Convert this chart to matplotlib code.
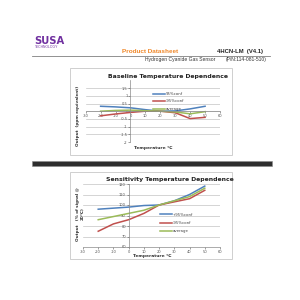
import matplotlib
matplotlib.use("Agg")
import matplotlib.pyplot as plt
from matplotlib.patches import Rectangle
from matplotlib.lines import Line2D

# data
temps = [-20, -10, 0, 10, 20, 30, 40, 50]

base_upper = [0.32, 0.28, 0.22, 0.1, 0.0, 0.02, 0.15, 0.32]
base_lower = [-0.3, -0.18, -0.08, 0.0, 0.0, -0.1, -0.48, -0.4]
base_avg = [0.0, 0.05, 0.07, 0.03, 0.0, -0.05, -0.17, -0.03]
base_labels = ["95%conf", "-95%conf", "average"]

sens_upper = [96, 97, 98, 99.5, 100, 104, 110, 118]
sens_lower = [75, 82, 86, 92, 100, 103, 106, 114]
sens_avg = [86, 89, 92, 95, 100, 104, 108, 116]
sens_labels = ["+95%conf", "-95%conf", "average"]

x_ticks = [-30, -20, -10, 0, 10, 20, 30, 40, 50, 60]
base_yticks = [-2, -1.5, -1, -0.5, 0, 0.5, 1, 1.5]
sens_yticks = [60, 70, 80, 90, 100, 110, 120]

colors = ["#4F81BD", "#C0504D", "#9BBB59"]

W = H = 300.0


def rect(l, t, r, b):
    return [l / W, 1 - b / H, (r - l) / W, (b - t) / H]


def fx(x):
    return x / W


def fy(y):
    return 1 - y / H


fig = plt.figure(figsize=(3, 3), dpi=100)
fig.patch.set_facecolor("white")

# header
fig.text(fx(34), fy(41), "SUSA", color="#7030A0", fontsize=7.2,
         fontweight="bold", family="DejaVu Sans", va="center")
fig.text(fx(35), fy(46.5), "TECHNOLOGY", color="#7030A0", fontsize=2.4,
         family="Liberation Sans", va="center")
fig.text(fx(122), fy(51.5), "Product Datasheet", color="#F0882A", fontsize=4.6,
         fontweight="bold", family="Liberation Sans", va="center")
fig.text(fx(217), fy(51.5), "4HCN-LM  (V4.1)", color="#222222", fontsize=4.2,
         fontweight="bold", family="Liberation Sans", va="center")
fig.add_artist(Line2D([fx(32), fx(270)], [fy(55.5), fy(55.5)], color="#808080", lw=0.6))
fig.text(fx(145), fy(59.5), "Hydrogen Cyanide Gas Sensor", color="#333333",
         fontsize=3.6, family="Liberation Sans", va="center")
fig.text(fx(226), fy(59.5), "(P/N:114-081-510)", color="#333333",
         fontsize=3.6, family="Liberation Sans", va="center")

# thick separator bar
fig.add_artist(Rectangle((fx(32), fy(166)), (272 - 32) / W, 5 / H,
                         transform=fig.transFigure, facecolor="#2e2e2e",
                         edgecolor="#8a8a8a", lw=0.4))

# chart boxes
for t, b in [(68, 155), (172, 259)]:
    fig.add_artist(Rectangle((fx(70), fy(b)), (232 - 70) / W, (b - t) / H,
                             transform=fig.transFigure, facecolor="none",
                             edgecolor="#C8C8C8", lw=0.6))


def style(ax, yticks):
    ax.set_xticks(x_ticks)
    ax.set_yticks(yticks)
    ax.set_xticklabels([str(v) for v in x_ticks])
    ax.set_yticklabels([("%g" % v) for v in yticks])
    ax.tick_params(labelsize=2.6, length=1.2, width=0.4, pad=0.8,
                   colors="#555555")
    ax.grid(axis="y", color="#C4C4C4", lw=0.5)
    ax.set_axisbelow(True)
    for s in ["top", "right"]:
        ax.spines[s].set_visible(False)
    for s in ["left", "bottom"]:
        ax.spines[s].set_color("#8A8A8A")
        ax.spines[s].set_linewidth(0.5)
    ax.spines["left"].set_position(("data", 0))
    ax.patch.set_alpha(0)


# chart 1: baseline
ax1 = fig.add_axes(rect(85.7, 80.4, 220, 142))
for vals, c, lab in zip([base_upper, base_lower, base_avg], colors, base_labels):
    ax1.plot(temps, vals, color=c, lw=1.1, label=lab)
ax1.set_xlim(-30, 60)
ax1.set_ylim(-2, 2)
style(ax1, base_yticks)
ax1.spines["bottom"].set_position(("data", 0))
ax1.legend(loc="center left", bbox_to_anchor=(fx(151), fy(101.5)),
           bbox_transform=fig.transFigure, frameon=False, fontsize=2.8,
           handlelength=3.0, handletextpad=0.3, labelspacing=0.9,
           borderpad=0, labelcolor="#444444")
fig.text(fx(168), fy(76), "Baseline Temperature Dependence", fontsize=4.4,
         fontweight="bold", ha="center", va="center", color="#222222")
fig.text(fx(77.5), fy(116), "Output  (ppm equivalent)", fontsize=3.0,
         fontweight="bold", rotation=90, ha="center", va="center", color="#333333")
fig.text(fx(153), fy(147.5), "Temperature \u2103", fontsize=3.2,
         fontweight="bold", ha="center", va="center", color="#333333")

# chart 2: sensitivity
ax2 = fig.add_axes(rect(83, 184, 220, 247))
for vals, c, lab in zip([sens_upper, sens_lower, sens_avg], colors, sens_labels):
    ax2.plot(temps, vals, color=c, lw=1.1, label=lab)
ax2.set_xlim(-30, 60)
ax2.set_ylim(60, 120)
style(ax2, sens_yticks)
ax2.legend(loc="center left", bbox_to_anchor=(fx(158), fy(223)),
           bbox_transform=fig.transFigure, frameon=False, fontsize=2.8,
           handlelength=3.0, handletextpad=0.3, labelspacing=1.1,
           borderpad=0, labelcolor="#444444")
fig.text(fx(170), fy(180), "Sensitivity Temperature Dependence", fontsize=4.4,
         fontweight="bold", ha="center", va="center", color="#222222")
fig.text(fx(80), fy(214), "Output   (% of signal @\n20\u2103)", fontsize=3.0,
         fontweight="bold", rotation=90, ha="center", va="center",
         multialignment="center", color="#333333", linespacing=1.3)
fig.text(fx(152), fy(256), "Temperature \u2103", fontsize=3.2,
         fontweight="bold", ha="center", va="center", color="#333333")

fig.savefig("out.png", dpi=100, facecolor="white")
